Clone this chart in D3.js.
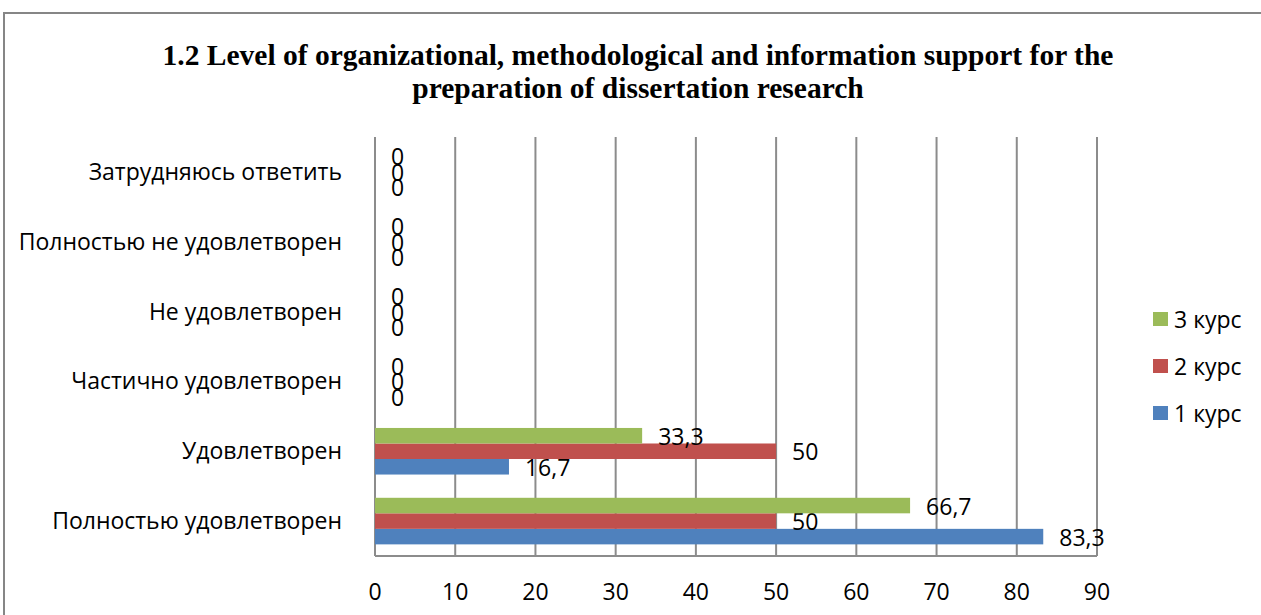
<!DOCTYPE html>
<meta charset="utf-8">
<style>
body { margin: 0; background: #fff; }
svg { font-family: "Open Sans", "Noto Sans", sans-serif; }
.title { font-family: "Liberation Serif", "Times New Roman", serif; font-weight: bold; font-size: 29.5px; }
.grid line { stroke: #8c8c8c; stroke-width: 2; }
.lbl { font-size: 23px; fill: #000; }
</style>
<body>
<svg width="1261" height="615"></svg>
<script src="https://d3js.org/d3.v7.min.js"></script>
<script>
var categories = [
    "Полностью удовлетворен",
    "Удовлетворен",
    "Частично удовлетворен",
    "Не удовлетворен",
    "Полностью не удовлетворен",
    "Затрудняюсь ответить"
];
var seriesNames = ["1 курс", "2 курс", "3 курс"];
var course1 = [83.3, 16.7, 0, 0, 0, 0];
var course2 = [50, 50, 0, 0, 0, 0];
var course3 = [66.7, 33.3, 0, 0, 0, 0];
var ticks = [0, 10, 20, 30, 40, 50, 60, 70, 80, 90];
var colors = ["#4f81bd", "#c0504d", "#9bbb59"];

var series = [course1, course2, course3];

var svg = d3.select("svg");

// outer chart border
svg.append("rect")
    .attr("x", 4).attr("y", 13)
    .attr("width", 1300).attr("height", 700)
    .attr("fill", "none")
    .attr("stroke", "#868686")
    .attr("stroke-width", 2);

svg.append("text").attr("class", "title")
    .attr("x", 638).attr("y", 65)
    .attr("text-anchor", "middle")
    .text("1.2 Level of organizational, methodological and information support for the");
svg.append("text").attr("class", "title")
    .attr("x", 638).attr("y", 98)
    .attr("text-anchor", "middle")
    .text("preparation of dissertation research");

var plotLeft = 375, plotRight = 1097, plotTop = 137, plotBottom = 556;

var x = d3.scaleLinear().domain([0, 90]).range([plotLeft, plotRight]);

// categories bottom to top: first category at bottom
var y = d3.scaleBand()
    .domain(categories.slice().reverse())
    .range([plotTop, plotBottom])
    .paddingInner(0.333)
    .paddingOuter(0.1665);

var grid = svg.append("g").attr("class", "grid");
grid.selectAll("line.v")
    .data(ticks)
  .enter().append("line")
    .attr("x1", function(d) { return x(d); })
    .attr("x2", function(d) { return x(d); })
    .attr("y1", plotTop)
    .attr("y2", plotBottom);
grid.append("line")
    .attr("x1", plotLeft).attr("x2", plotRight)
    .attr("y1", plotBottom).attr("y2", plotBottom);

// tick labels
svg.append("g").selectAll("text")
    .data(ticks)
  .enter().append("text")
    .attr("class", "lbl")
    .attr("x", function(d) { return x(d); })
    .attr("y", 592)
    .attr("dy", "0.35em")
    .attr("text-anchor", "middle")
    .text(function(d) { return d; });

// category labels
svg.append("g").selectAll("text")
    .data(categories)
  .enter().append("text")
    .attr("class", "lbl")
    .attr("x", 342)
    .attr("y", function(d) { return y(d) + y.bandwidth() / 2; })
    .attr("dy", "0.35em")
    .attr("text-anchor", "end")
    .text(function(d) { return d; });

// bars: 3 курс on top, 1 курс at bottom
var sub = d3.scaleBand()
    .domain([2, 1, 0])
    .range([0, y.bandwidth()]);

var fmt = function(v) { return String(v).replace(".", ","); };

series.forEach(function(vals, si) {
    var g = svg.append("g");
    g.selectAll("rect")
        .data(vals)
      .enter().append("rect")
        .attr("x", plotLeft)
        .attr("y", function(d, i) { return y(categories[i]) + sub(si); })
        .attr("width", function(d) { return x(d) - plotLeft; })
        .attr("height", sub.bandwidth())
        .attr("fill", colors[si]);
    g.selectAll("text")
        .data(vals)
      .enter().append("text")
        .attr("class", "lbl")
        .attr("x", function(d) { return x(d) + 16; })
        .attr("y", function(d, i) { return y(categories[i]) + sub(si) + sub.bandwidth() / 2 + 1; })
        .attr("dy", "0.35em")
        .text(function(d) { return fmt(d); });
});

// legend
var legend = svg.append("g").selectAll("g")
    .data([2, 1, 0])
  .enter().append("g")
    .attr("transform", function(d, i) { return "translate(1153," + (319 + i * 47) + ")"; });
legend.append("rect")
    .attr("x", 0).attr("y", -7)
    .attr("width", 15).attr("height", 14)
    .attr("fill", function(d) { return colors[d]; });
legend.append("text")
    .attr("class", "lbl")
    .attr("x", 21).attr("y", 1)
    .attr("dy", "0.35em")
    .text(function(d) { return seriesNames[d]; });
</script>
</body>
